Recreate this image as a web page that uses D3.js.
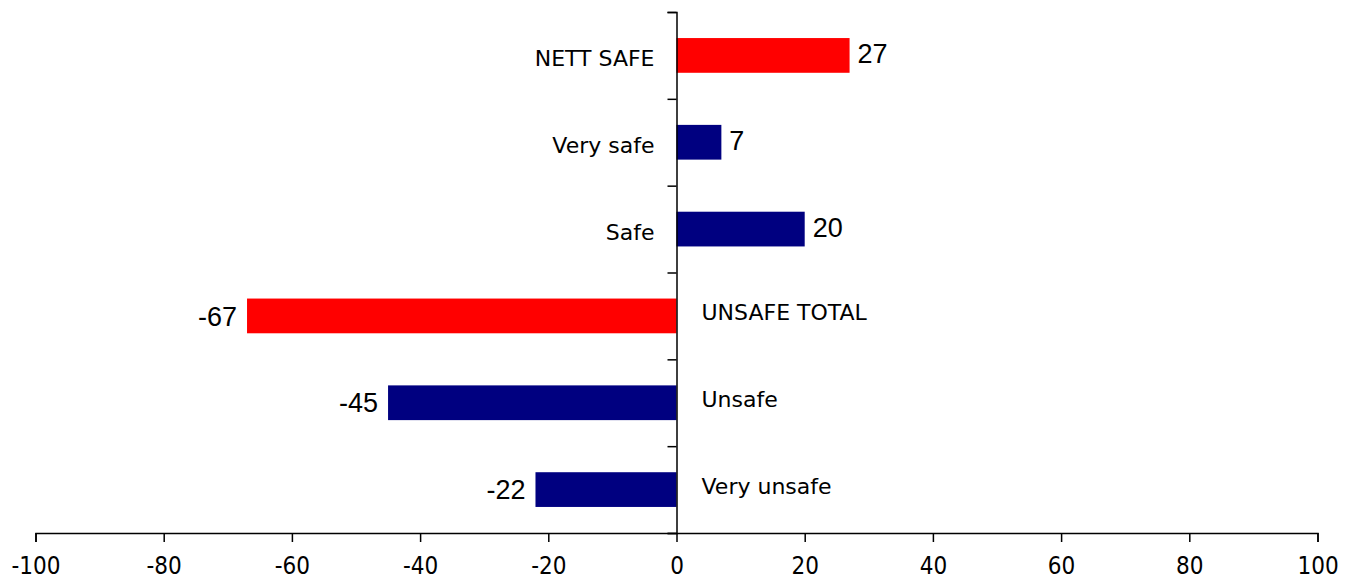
<!DOCTYPE html>
<html>
<head>
<meta charset="utf-8">
<script src="https://cdn.jsdelivr.net/npm/d3@7"></script>
<style>
  html, body { margin: 0; padding: 0; background: #fff; }
  svg { display: block; }
  .cat { font-family: "DejaVu Sans", Verdana, sans-serif; font-size: 22px; fill: #000; }
  .val { font-family: "Liberation Sans", Arial, sans-serif; font-size: 27px; fill: #000; }
  .xaxis text { font-family: "DejaVu Sans", sans-serif; font-stretch: condensed; font-size: 24px; fill: #000; }
  .domain, .tick line { stroke: #000; stroke-width: 1.5px; }
</style>
</head>
<body>
<svg id="chart" width="1353" height="581"></svg>
<script>
// Survey responses: how safe people feel (net and component shares, %)
const categories = ["NETT SAFE", "Very safe", "Safe", "UNSAFE TOTAL", "Unsafe", "Very unsafe"];
const values = [27, 7, 20, -67, -45, -22];
const totalCategories = ["NETT SAFE", "UNSAFE TOTAL"];
const xTicks = [-100, -80, -60, -40, -20, 0, 20, 40, 60, 80, 100];

const svg = d3.select("#chart");
const plotTop = 12, plotBottom = 533, plotLeft = 35.5, plotRight = 1317.5;

// plain hyphen-minus for negative numbers
const fmt = v => String(v);

const x = d3.scaleLinear().domain([-100, 100]).range([plotLeft, plotRight]);
const y = d3.scaleBand().domain(categories).range([plotTop, plotBottom])
  .paddingInner(0.6).paddingOuter(0.3);

const data = categories.map((c, i) => ({ cat: c, value: values[i] }));

// bars
svg.append("g").selectAll("rect").data(data).join("rect")
  .attr("x", d => x(Math.min(0, d.value)))
  .attr("width", d => Math.abs(x(d.value) - x(0)))
  .attr("y", d => y(d.cat))
  .attr("height", y.bandwidth())
  .attr("fill", d => totalCategories.includes(d.cat) ? "#ff0000" : "#000080");

// x axis
svg.append("g").attr("class", "xaxis")
  .attr("transform", `translate(0,${plotBottom})`)
  .call(d3.axisBottom(x).tickValues(xTicks).tickFormat(fmt).tickSize(9).tickPadding(15).tickSizeOuter(9))
  .call(g => g.selectAll("text").attr("dy", "0.71em"));

// vertical axis at zero with ticks on the category boundaries
const boundary = d3.scaleLinear().domain([0, categories.length]).range([plotBottom, plotTop]);
svg.append("g")
  .attr("transform", `translate(${x(0)},0)`)
  .call(d3.axisLeft(boundary).ticks(categories.length).tickSize(9).tickSizeOuter(9).tickFormat(""));

// category labels, placed opposite the bar
svg.append("g").selectAll("text").data(data).join("text")
  .attr("class", "cat")
  .attr("x", d => d.value >= 0 ? x(0) - 22 : x(0) + 25)
  .attr("y", d => y(d.cat) + y.bandwidth() / 2 + (d.value >= 0 ? 3 : -4))
  .attr("dy", "0.36em")
  .attr("text-anchor", d => d.value >= 0 ? "end" : "start")
  .text(d => d.cat);

// value labels at bar ends
svg.append("g").selectAll("text").data(data).join("text")
  .attr("class", "val")
  .attr("x", d => d.value >= 0 ? x(d.value) + 8 : x(d.value) - 10)
  .attr("y", d => y(d.cat) + y.bandwidth() / 2 + (d.value >= 0 ? -2 : 0))
  .attr("dy", "0.36em")
  .attr("text-anchor", d => d.value >= 0 ? "start" : "end")
  .text(d => fmt(d.value));
</script>
</body>
</html>
